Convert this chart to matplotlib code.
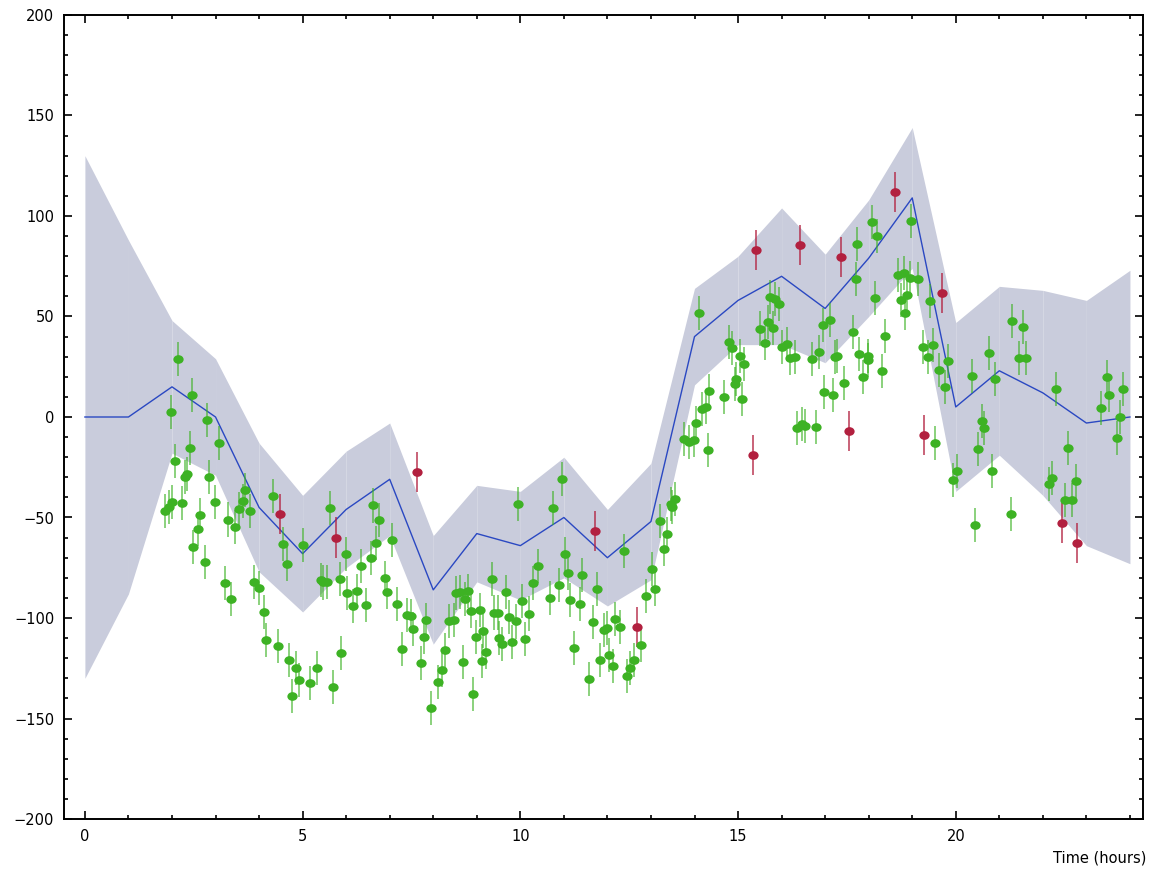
import numpy as np
import matplotlib
matplotlib.use("Agg")
import matplotlib.pyplot as plt
from matplotlib.path import Path
from matplotlib.transforms import Affine2D
from matplotlib.ticker import MultipleLocator

# model mean and spread at each hour
hours = np.arange(0, 25)
mean = [0, 0, 15, 0, -45, -68, -46, -31, -86, -58, -64, -50, -70, -52,
        40, 58, 70, 54, 79, 109, 5, 23, 12, -3, 0]
spread = [130, 88, 33, 29, 32, 29, 29, 28, 27, 24, 27, 30, 24, 29,
          24, 22, 34, 27, 29, 35, 42, 42, 51, 61, 73]

# accepted measurements
good_t = [2.14, 2.46, 1.97, 2.81, 2.42, 3.09, 2.08, 2.30, 2.34, 2.86, 1.85, 1.93, 2.01, 2.24,
          2.65, 2.99, 3.28, 3.55, 3.68, 3.63, 3.80, 3.44, 2.59, 4.32, 5.62, 6.61, 6.75,
          2.49, 2.76, 3.21, 3.36, 3.89, 4.00, 4.11, 4.16, 4.44, 4.56, 4.65, 5.01, 4.69,
          4.84, 4.91, 5.16, 5.33, 4.75, 5.89, 5.69, 6.00, 5.42, 5.47, 5.57, 5.85, 6.03,
          6.25, 6.16, 6.45, 6.34, 6.56, 6.69, 7.05, 6.89, 6.94, 7.16, 7.39, 7.49, 7.54,
          7.84, 7.79, 7.28, 7.72, 8.27, 8.19, 8.11, 7.94, 8.69, 8.92, 8.37, 8.47, 8.52,
          8.61, 8.79, 8.73, 8.86, 8.99,
          9.07, 9.15, 9.22, 9.11, 9.34, 9.67, 9.40, 9.48, 9.74, 9.91, 9.52, 9.58, 9.82,
          10.03, 10.20, 10.10, 9.95, 10.30, 10.41, 10.69, 10.88, 10.75, 10.95, 11.02,
          11.09, 11.15, 11.36, 11.41, 11.24, 11.76, 11.67, 11.92, 11.99, 12.17, 12.30,
          11.84, 12.03, 12.12, 11.57, 12.44, 12.53, 12.61, 12.76, 12.37, 12.88, 13.10,
          13.03, 13.29, 13.37, 13.21, 13.46, 13.49, 13.56, 13.75, 13.87, 13.98, 14.30,
          14.03, 14.18, 14.26,
          14.10, 18.08, 18.20, 17.73, 17.70, 18.14, 15.74, 15.84, 15.94, 15.69, 15.51,
          15.80, 15.63, 14.79, 14.85, 15.04, 15.14, 14.96, 14.93, 14.67, 15.10, 14.34,
          16.02, 16.13, 16.19, 16.30, 16.70, 16.85, 16.95, 17.12, 17.22, 17.28, 17.65,
          17.78, 17.99, 17.98, 17.87, 18.38, 18.31, 17.43, 16.98, 17.17, 16.35, 16.47,
          16.53, 16.78,
          18.98, 18.68, 18.81, 18.94, 19.13, 18.74, 18.88, 18.84, 19.40, 19.24, 19.48,
          19.37, 19.82, 19.62, 19.75, 19.52, 20.03, 19.93, 20.45, 20.37, 20.76, 20.91,
          20.60, 20.64, 20.50, 20.84, 21.26, 21.30, 21.54, 21.45, 21.62, 22.30, 22.57,
          22.22, 22.14, 22.50, 22.68, 22.75, 23.47, 23.52, 23.83, 23.34, 23.77, 23.71]
good_v = [29, 11, 2.6, -1.3, -15.6, -12.8, -22, -29.7, -28.4, -30, -46.8, -44.6, -42.3, -42.8,
          -48.6, -42.4, -51, -45.8, -36.5, -41.6, -46.8, -54.6, -55.7, -39.2, -45.4, -44, -51.2,
          -64.7, -72.1, -82.6, -90.7, -82.1, -85, -97.2, -110.8, -113.8, -63.3, -73.3, -63.8, -120.9,
          -124.9, -131, -132.2, -124.7, -138.7, -117.3, -134.2, -68.3, -80.9, -82.3, -82.1, -80.8, -87.4,
          -86.7, -94.2, -93.5, -74.1, -70, -62.7, -61.3, -80.1, -87, -92.9, -98.5, -98.9, -105.3,
          -100.8, -109.3, -115.3, -122.5, -115.9, -125.9, -132, -144.9, -122, -137.7, -101.3, -101, -87.6,
          -87, -86.6, -90.7, -96.5, -109.3,
          -96, -106.5, -117, -121.5, -80.8, -86.9, -97.3, -97.3, -99.7, -101.7, -110, -112.9, -112.1,
          -91.5, -97.8, -110.6, -43.3, -82.4, -74.1, -90.2, -83.4, -45.1, -31, -68,
          -77.8, -91, -93.2, -78.6, -115.1, -85.7, -102, -106, -105.1, -100.5, -104.6,
          -120.9, -118.6, -123.7, -130.5, -128.7, -124.7, -120.9, -113.4, -66.5, -89.2, -85.7,
          -75.6, -65.8, -58.4, -51.7, -43.4, -44.9, -40.9, -10.9, -12.6, -11.4, -16.4,
          -2.8, 3.8, 4.8,
          51.7, 97, 90.2, 86.2, 68.8, 59, 59.6, 58.9, 56.1, 47.1, 44,
          44.1, 37, 37.5, 34.5, 30.2, 26.5, 18.9, 16.4, 10.1, 9.1, 12.8,
          34.7, 36.3, 29.4, 30, 28.9, 32.5, 45.9, 48.3, 29.9, 30.2, 42.4,
          31.2, 30.2, 28.4, 19.8, 40.1, 23, 16.8, 12.6, 10.9, -5.6, -3.5,
          -4.3, -5,
          97.4, 70.8, 71.6, 69.3, 68.7, 58.2, 60.8, 51.7, 57.9, 35, 35.8,
          29.9, 28, 23.2, 14.9, -12.8, -26.7, -31.5, -53.7, 20.2, 31.7, 18.9,
          -2, -5.3, -16.1, -26.9, -48.1, 47.9, 44.8, 29.5, 29.4, 13.8, -15.6,
          -30.2, -33.2, -41.3, -41.3, -31.7, 20, 11, 13.8, 4.6, -0.2, -10.6]
good_err = 8.5

# flagged measurements
bad_t = [4.48, 5.76, 7.63, 11.72, 12.67, 15.34, 15.42, 16.43, 17.37, 17.55, 18.60, 19.68,
         19.28, 22.45, 22.79]
bad_v = [-48.4, -60, -27.4, -56.6, -104.5, -19.1, 83.2, 85.6, 79.6, -7, 112, 61.7,
         -9.1, -52.7, -62.5]
bad_err = 10

band_color = "#c9ccdc"
line_color = "#2a48c2"
green = "#3db224"
red = "#b2203f"

plt.rcParams["font.family"] = ["DejaVu Sans"]
plt.rcParams["font.size"] = 10.5

fig = plt.figure(figsize=(11.5, 8.72), dpi=100)
ax = fig.add_axes([64 / 1150, 53 / 872, 1079 / 1150, 804 / 872])

lo = np.array(mean) - np.array(spread)
hi = np.array(mean) + np.array(spread)
# one polygon per hour so the seams show between segments
for i in range(len(hours) - 1):
    ax.fill_between(hours[i:i + 2], lo[i:i + 2], hi[i:i + 2], color=band_color,
                    lw=0, zorder=1)
ax.plot(hours, mean, color=line_color, lw=1.0, zorder=2)

ellipse = Path.unit_circle().transformed(Affine2D().scale(1.18, 1.0))

ax.errorbar(good_t, good_v, yerr=good_err, fmt="none", ecolor=green, elinewidth=1.4,
            alpha=0.6, zorder=3)
ax.plot(good_t, good_v, ls="none", marker=ellipse, ms=7.4, color=green, mec="none", zorder=4)
ax.errorbar(bad_t, bad_v, yerr=bad_err, fmt="none", ecolor=red, elinewidth=1.4,
            alpha=0.7, zorder=3)
ax.plot(bad_t, bad_v, ls="none", marker=ellipse, ms=7.4, color=red, mec="none", zorder=4)

ax.set_xlim(-0.48, 24.3)
ax.set_ylim(-200, 200)
ax.xaxis.set_major_locator(MultipleLocator(5))
ax.xaxis.set_minor_locator(MultipleLocator(1))
ax.yaxis.set_major_locator(MultipleLocator(50))
ax.yaxis.set_minor_locator(MultipleLocator(10))
ax.tick_params(which="both", direction="in", top=True, right=True, width=1.2)
ax.tick_params(which="major", length=6)
ax.tick_params(which="minor", length=3)
ax.tick_params(axis="x", pad=7)
ax.tick_params(axis="y", pad=7)
for s in ax.spines.values():
    s.set_linewidth(1.4)

fig.text(1146 / 1150, 1 - 858 / 872, "Time (hours)", ha="right", va="center")

fig.savefig("out.png", dpi=100)
